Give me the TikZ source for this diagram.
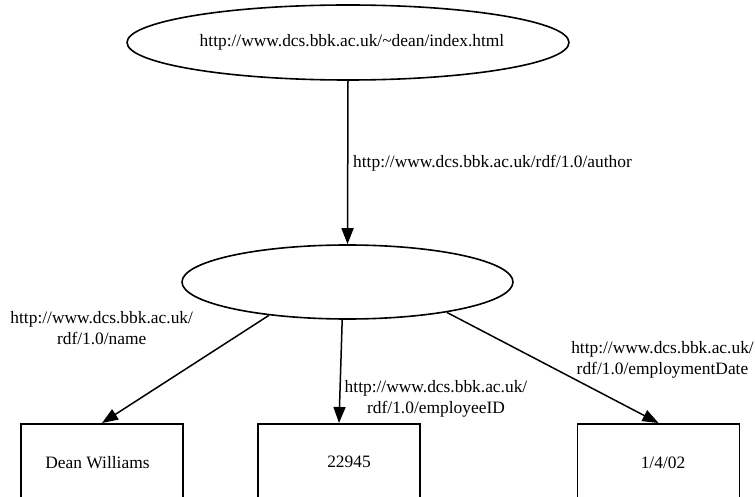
\documentclass[tikz,border=0pt]{standalone}
\usepackage{fontspec}
\setmainfont{Liberation Serif}
\usetikzlibrary{arrows.meta,shapes.geometric}
\begin{document}
\begin{tikzpicture}[x=1pt,y=-1pt,
  every node/.style={font=\fontsize{17.4}{20.5}\selectfont},
  res/.style={draw,ellipse,line width=1.6pt,inner sep=0pt},
  lit/.style={draw,rectangle,line width=1.6pt,minimum width=162pt,minimum height=77pt,anchor=north,inner sep=0pt},
  prop/.style={draw,line width=1.5pt,-{Triangle[length=16pt,width=12pt]}},
  plabel/.style={align=center,inner sep=0pt,anchor=base}]
\useasboundingbox (0,0) rectangle (755,497);
\clip (0,0) rectangle (755,497);
\node[res,minimum width=430pt,minimum height=75pt] (e1) at (348,42.5) {\hspace*{8pt}http://www.dcs.bbk.ac.uk/\textasciitilde dean/index.html};
\node[res,minimum width=331pt,minimum height=74pt] (e2) at (347.5,282) {};
\node[lit] (b1) at (102,423) {Dean Williams\hspace*{9pt}};
\node[lit] (b2) at (339,423) {\hspace*{20pt}22945};
\node[lit] (b3) at (658.5,423) {\hspace*{9pt}1/4/02};
\draw[prop] (e1.south) -- (e2.north);
\draw[prop] (e2.203.5) -- (b1.north);
\draw[prop] (e2.262) -- (b2.north);
\draw[prop] (e2.343.5) -- (b3.north);
\node[anchor=base west,inner sep=0pt] (lauthor) at (353,168) {http://www.dcs.bbk.ac.uk/rdf/1.0/author};
\node[plabel] (lname) at (101.7,344) {http://www.dcs.bbk.ac.uk/\\rdf/1.0/name};
\node[plabel] (lid) at (436,413) {http://www.dcs.bbk.ac.uk/\\rdf/1.0/employeeID};
\node[plabel] (ldate) at (662.5,374) {http://www.dcs.bbk.ac.uk/\\rdf/1.0/employmentDate};
\end{tikzpicture}
\end{document}
